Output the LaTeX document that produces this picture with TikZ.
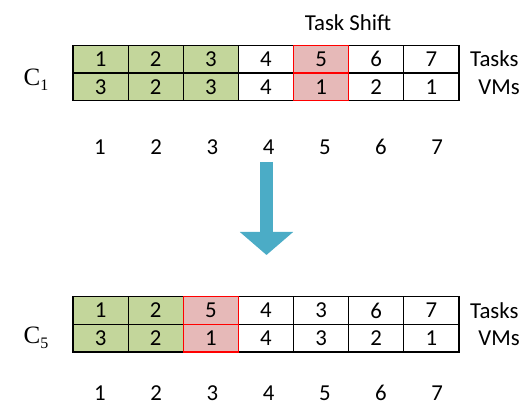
\documentclass[tikz,border=0pt]{standalone}
\usepackage{fontspec}
\setmainfont{Carlito}
\newfontfamily\chromfont{Liberation Serif}
\usetikzlibrary{arrows.meta}
\definecolor{cellgreen}{HTML}{C3D69B}
\definecolor{cellred}{HTML}{E6B9B8}
\definecolor{shiftblue}{HTML}{4BACC6}

\begin{document}
\begin{tikzpicture}[x=1pt, y=-1pt, font=\fontsize{22.8}{26}\selectfont,
	cell/.style={draw, line width=1.2pt, minimum width=55.1pt, minimum height=27.7pt, inner sep=0pt},
	keptcell/.style={cell, fill=cellgreen},
	freecell/.style={cell, fill=white},
	movedcell/.style={cell, fill=cellred, draw=red},
	rowlabel/.style={inner sep=0pt},
	chrom/.style={inner sep=0pt, font=\fontsize{25}{28}\chromfont}]
	\useasboundingbox (0, 0) rectangle (522, 406);
	
	\node (shift) at (348, 23) {Task Shift};
	
	\foreach \i/\t/\v/\s in {1/1/3/keptcell, 2/2/2/keptcell, 3/3/3/keptcell, 4/4/4/freecell, 6/6/2/freecell, 7/7/1/freecell, 5/5/1/movedcell}{
	\node[style=\s] (ta\i) at (73 + 55.14*\i - 27.57, 59) {\t};
	\node[style=\s] (va\i) at (73 + 55.14*\i - 27.57, 86.8) {\v};
	}
	
	\foreach \i/\t/\v/\s in {1/1/3/keptcell, 2/2/2/keptcell, 4/4/4/freecell, 5/3/3/freecell, 6/6/2/freecell, 7/7/1/freecell, 3/5/1/movedcell}{
	\node[style=\s] (tb\i) at (73 + 55.14*\i - 27.57, 310.5) {\t};
	\node[style=\s] (vb\i) at (73 + 55.14*\i - 27.57, 338.2) {\v};
	}
	
	\foreach \i in {1,...,7}{
	\node[rowlabel] (na\i) at (100 + 56.2*\i - 56.2, 147) {\i};
	\node[rowlabel] (nb\i) at (100 + 56.2*\i - 56.2, 393) {\i};
	}
	
	\node[rowlabel, anchor=west] (tasksa) at (470, 59) {Tasks};
	\node[rowlabel, anchor=east] (vmsa) at (520, 87) {VMs};
	\node[rowlabel, anchor=west] (tasksb) at (470, 310.5) {Tasks};
	\node[rowlabel, anchor=east] (vmsb) at (520, 338.5) {VMs};
	
	\node[chrom] (ca) at (36, 80) {C\raisebox{-0.4ex}{\fontsize{16}{16}\selectfont 1}};
	\node[chrom] (cb) at (36, 338) {C\raisebox{-0.4ex}{\fontsize{16}{16}\selectfont 5}};
	
	\coordinate (from) at (266.5, 162);
	\coordinate (to) at (266.5, 255);
	\draw[shiftblue, line width=13pt, -{Triangle[width=52pt, length=23pt]}] (from) -- (to);
	
\end{tikzpicture}
\end{document}
